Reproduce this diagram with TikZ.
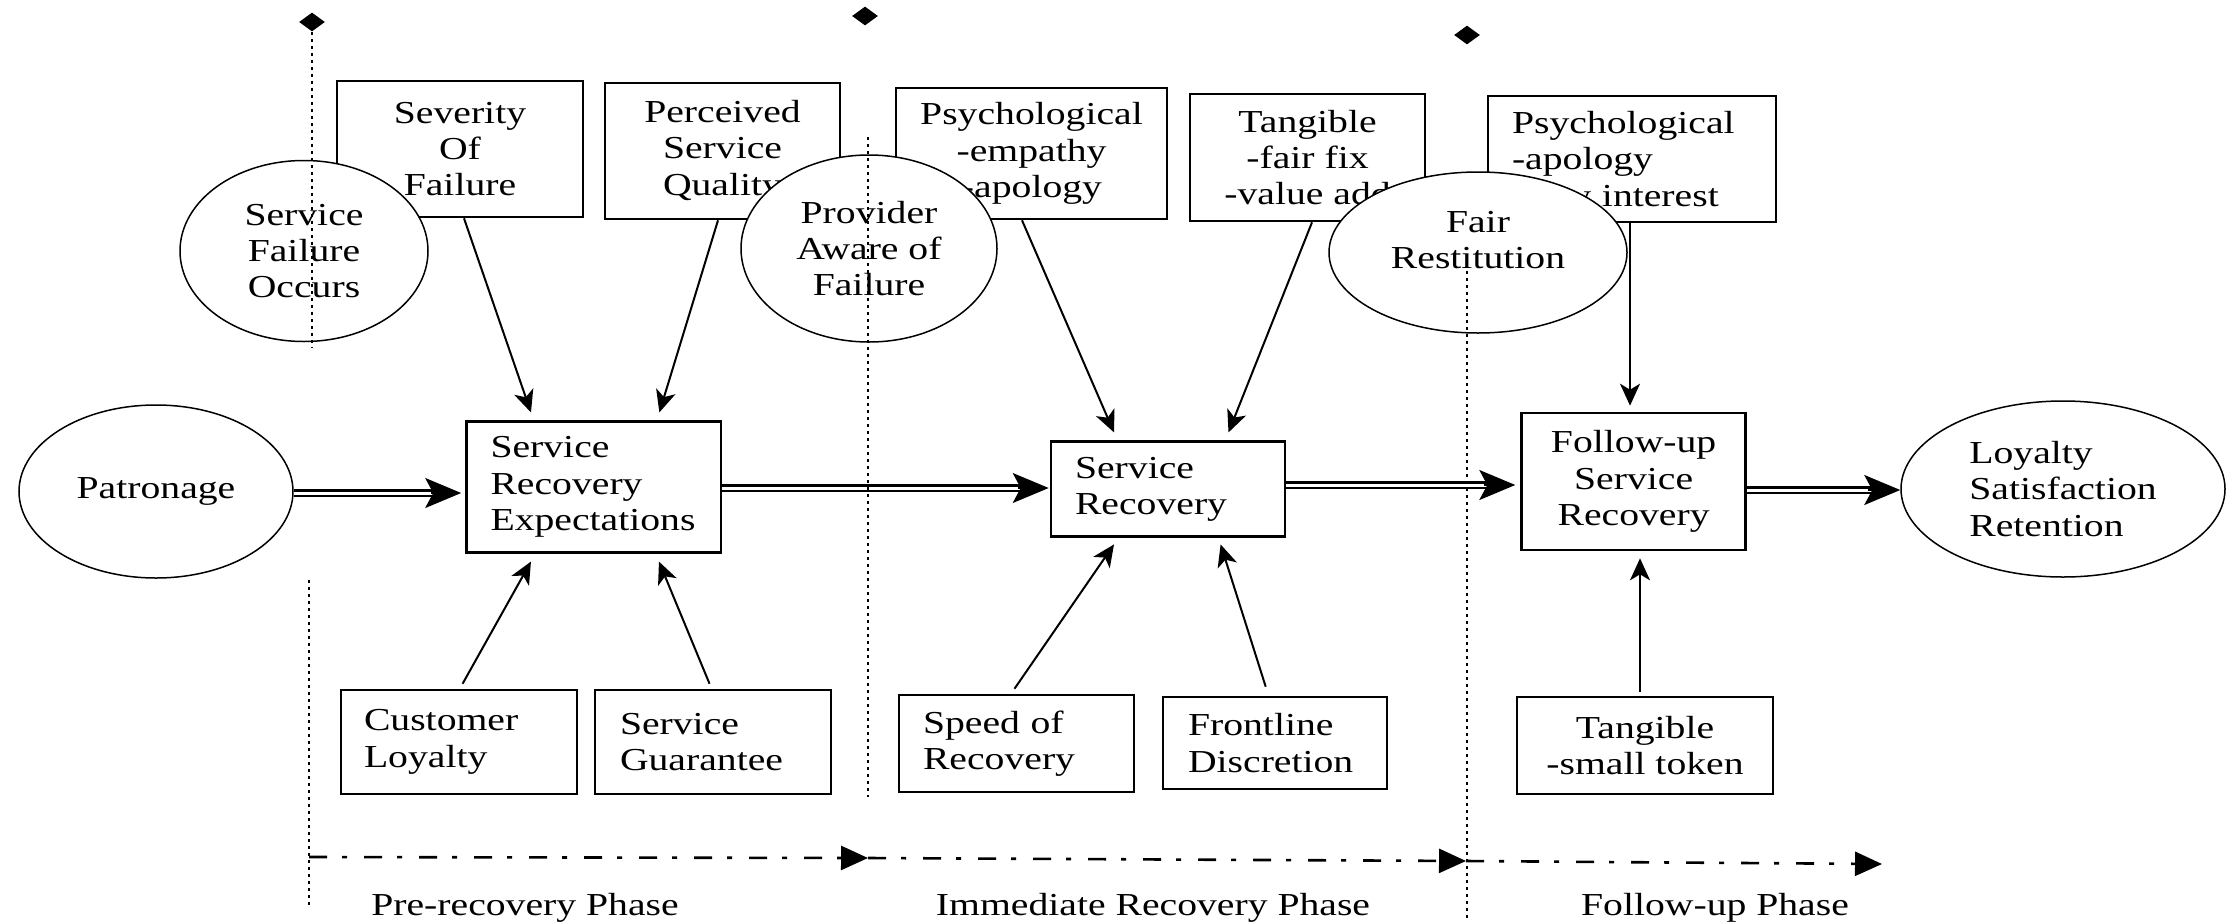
\documentclass[tikz,border=0pt]{standalone}
\usepackage{fontspec}
\setmainfont{Liberation Serif}[FakeStretch=1.24]
\usetikzlibrary{shapes.geometric,arrows.meta}
\begin{document}
\begin{tikzpicture}[x=0.5pt,y=-0.5pt,
  txt/.style={font=\fontsize{16}{18.2}\selectfont},
  box/.style={txt,draw,fill=white,line width=1.3pt,inner sep=0pt,align=center},
  lbox/.style={box,align=left,inner xsep=12pt},
  oval/.style={txt,draw,fill=white,ellipse,line width=0.75pt,inner sep=0pt,align=center},
  feed/.style={line width=1pt,-{Stealth[length=11pt,width=10pt,inset=3pt]}},
  flow/.style={double,double distance=1.5pt,line width=1.25pt},
  flowtip/.style={line width=1pt,-{Stealth[length=18pt,width=15pt,inset=4pt]}},
  divider/.style={line width=1pt,dash pattern=on 1.5pt off 2pt},
  phase/.style={line width=1.3pt,dash pattern=on 9pt off 7.5pt on 2.5pt off 8.5pt,-{Triangle[length=13.5pt,width=12pt]}},
  diam/.style={diamond,fill,draw=none,inner sep=0pt,minimum width=13pt,minimum height=9.5pt}
]
% page
\useasboundingbox (0,0) rectangle (2236,921);
\fill[white] (0,0) rectangle (2236,921);

% influences above the chain
\node[box,minimum width=123pt,minimum height=68pt] (sev) at (460,149) {Severity\\Of\\Failure};
\node[box,minimum width=117.5pt,minimum height=68pt] (pq) at (722.5,151) {Perceived\\Service\\Quality};
\node[box,minimum width=135.5pt,minimum height=65.5pt] (ps1) at (1031.5,153.5) {Psychological\\-empathy\\-apology};
\node[box,minimum width=117.5pt,minimum height=63.5pt] (tg1) at (1307.5,157.5) {Tangible\\-fair fix\\-value add};
\node[lbox,text width=120pt,minimum height=63pt] (ps2) at (1632,159) {Psychological\\-apology\\-new interest};

% events marking the phase boundaries
\node[oval,minimum width=124pt,minimum height=90.5pt] (sfo) at (304,251) {Service\\Failure\\Occurs};
\node[oval,minimum width=128pt,minimum height=93.5pt] (paf) at (869,248.5) {Provider\\Aware of\\Failure};
\node[oval,minimum width=149pt,minimum height=80.5pt] (fr) at (1478,252.5) {};
\node[txt,align=center] (frt) at (1478,240) {Fair\\Restitution};

% main chain
\node[oval,minimum width=137pt,minimum height=86.5pt] (pat) at (156,491.5) {Patronage};
\node[lbox,text width=103.25pt,minimum height=65.3pt] (sre) at (593.75,487) {Service\\Recovery\\Expectations};
\node[lbox,text width=93pt,minimum height=47.5pt] (sr) at (1168,489.2) {Service\\Recovery};
\node[box,minimum width=112pt,minimum height=68.5pt] (fsr) at (1633.6,481.5) {Follow-up\\Service\\Recovery};
\node[oval,align=left,minimum width=162pt,minimum height=88pt] (loy) at (2063,489) {Loyalty\\Satisfaction\\Retention};

% influences below the chain
\node[lbox,inner xsep=11.5pt,text width=95pt,minimum height=52pt] (cl) at (459,742) {Customer\\Loyalty};
\node[lbox,inner xsep=12.5pt,text width=93pt,minimum height=52pt] (sg) at (713,742) {Service\\Guarantee};
\node[lbox,text width=93.5pt,minimum height=48.5pt] (sor) at (1016.5,743.5) {Speed of\\Recovery};
\node[lbox,inner xsep=12.5pt,text width=87pt,minimum height=46pt] (fl) at (1275,743) {Frontline\\Discretion};
\node[box,minimum width=128pt,minimum height=48.5pt] (tst) at (1645,745.5) {Tangible\\-small token};

% single-line influence arrows
\draw[feed] ([xshift=2pt]sev.south) -- ([xshift=-31.4pt,yshift=4pt]sre.north);
\draw[feed] ([xshift=-2.25pt]pq.south) -- ([xshift=32.8pt,yshift=4pt]sre.north);
\draw[feed] ([xshift=-4.75pt]ps1.south) -- ([xshift=-27pt,yshift=4pt]sr.north);
\draw[feed] ([xshift=2.25pt]tg1.south) -- ([xshift=30.25pt,yshift=4pt]sr.north);
\draw[feed] ([xshift=-1pt]ps2.south) -- ([xshift=-1.8pt,yshift=3pt]fsr.north);
\draw[feed] ([xshift=1.8pt,yshift=2.5pt]cl.north) -- ([xshift=-31.4pt,yshift=-4pt]sre.south);
\draw[feed] ([xshift=-1.75pt,yshift=2.5pt]sg.north) -- ([xshift=32.6pt,yshift=-4pt]sre.south);
\draw[feed] ([xshift=-1pt,yshift=2.5pt]sor.north) -- ([xshift=-27pt,yshift=-3.2pt]sr.south);
\draw[feed] ([xshift=-4.65pt,yshift=4.5pt]fl.north) -- ([xshift=26.3pt,yshift=-3.2pt]sr.south);
\draw[feed] ([xshift=-2.5pt,yshift=2pt]tst.north) -- ([xshift=3.2pt,yshift=-3.5pt]fsr.south);

% double-line flow arrows along the chain
\coordinate (f1a) at (pat.east |- 0,493);
\coordinate (f1b) at (sre.west |- 0,493);
\coordinate (f2a) at (sre.east |- 0,488);
\coordinate (f2b) at (sr.west |- 0,488);
\coordinate (f3a) at (sr.east |- 0,485);
\coordinate (f3b) at (fsr.west |- 0,485);
\coordinate (f4a) at (fsr.east |- 0,490);
\coordinate (f4b) at (loy.west |- 0,490);
\draw[flow] (f1a) -- ([xshift=-13pt]f1b);
\draw[flowtip] ([xshift=-17pt]f1b) -- ([xshift=-2pt]f1b);
\draw[flow] (f2a) -- ([xshift=-12pt]f2b);
\draw[flowtip] ([xshift=-16pt]f2b) -- ([xshift=-0.5pt]f2b);
\draw[flow] (f3a) -- ([xshift=-14pt]f3b);
\draw[flowtip] ([xshift=-18pt]f3b) -- ([xshift=-2.5pt]f3b);
\draw[flow] (f4a) -- ([xshift=-12pt]f4b);
\draw[flowtip] ([xshift=-16pt]f4b) -- (f4b);

% phase boundaries
\node[diam] (d1) at (312,22) {};
\node[diam] (d2) at (865,16) {};
\node[diam] (d3) at (1467,35) {};
\coordinate (v1a) at (312,347);
\coordinate (v1b) at (309,580);
\coordinate (v1c) at (309,905);
\coordinate (v2a) at (868,137);
\coordinate (v2b) at (868,797);
\coordinate (v3a) at (1467,271);
\coordinate (v3b) at (1467,921);
\draw[divider] (d1) -- (v1a);
\draw[divider] (v1b) -- (v1c);
\draw[divider] (v2a) -- (v2b);
\draw[divider] (v3a) -- (v3b);

% phase time line
\coordinate (p0) at (309,857);
\coordinate (p1) at (868,858);
\coordinate (p2) at (1466,861);
\coordinate (p3) at (1882,864);
\draw[phase] (p0) -- (p1);
\draw[phase] (p1) -- (p2);
\draw[phase] (p2) -- (p3);
\node[txt,anchor=base] (ph1) at (525,915) {Pre-recovery Phase};
\node[txt,anchor=base] (ph2) at (1153,915) {Immediate Recovery Phase};
\node[txt,anchor=base] (ph3) at (1715,915) {Follow-up Phase};
\end{tikzpicture}
\end{document}
